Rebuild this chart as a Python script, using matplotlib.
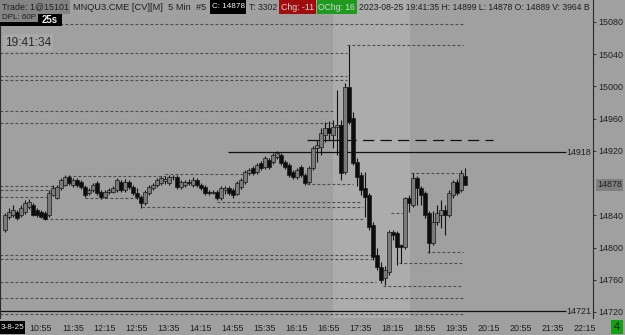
import matplotlib
matplotlib.use("Agg")
import matplotlib.pyplot as plt
from matplotlib.patches import Rectangle

W, H = 625, 335
plt.rcParams['font.family'] = ['Liberation Sans', 'DejaVu Sans']

# 5 min bars, 10:10 .. 19:40
opens = [14822, 14838, 14840, 14844, 14840, 14844, 14850, 14853, 14847, 14844,
         14843, 14840, 14865, 14862, 14874, 14878, 14888, 14878, 14884, 14881,
         14875, 14868, 14871, 14880, 14869, 14863, 14869, 14869, 14871, 14881,
         14871, 14881, 14875, 14868, 14863, 14855, 14868, 14874, 14878, 14880,
         14882, 14880, 14887, 14888, 14875, 14878, 14881, 14878, 14884, 14878,
         14875, 14869, 14868, 14869, 14862, 14871, 14874, 14871, 14867, 14875,
         14881, 14893, 14899, 14894, 14905, 14900, 14909, 14906, 14912, 14915,
         14906, 14902, 14894, 14888, 14900, 14890, 14881, 14899, 14924, 14925,
         14940, 14948, 14940, 14950, 14952, 14894, 14999, 14961, 14906, 14890,
         14874, 14865, 14828, 14791, 14776, 14762, 14770, 14819, 14818, 14803,
         14801, 14861, 14853, 14886, 14874, 14868, 14843, 14806, 14832, 14840,
         14847, 14840, 14865, 14881, 14871, 14889]
highs = [14843, 14849, 14853, 14847, 14853, 14859, 14860, 14855, 14849, 14847,
         14845, 14871, 14878, 14878, 14886, 14890, 14890, 14886, 14886, 14884,
         14878, 14874, 14880, 14883, 14871, 14871, 14874, 14876, 14886, 14884,
         14885, 14884, 14878, 14874, 14865, 14871, 14878, 14880, 14886, 14889,
         14889, 14890, 14890, 14890, 14884, 14884, 14885, 14888, 14886, 14880,
         14878, 14871, 14871, 14871, 14876, 14876, 14876, 14874, 14883, 14886,
         14896, 14899, 14901, 14905, 14907, 14914, 14911, 14917, 14920, 14917,
         14909, 14905, 14896, 14899, 14902, 14893, 14901, 14926, 14934, 14948,
         14956, 14957, 14958, 14996, 14958, 15004, 15051, 14968, 14911, 14894,
         14894, 14868, 14832, 14799, 14782, 14777, 14822, 14822, 14821, 14804,
         14863, 14865, 14893, 14889, 14876, 14870, 14845, 14845, 14853, 14859,
         14853, 14871, 14884, 14885, 14896, 14899]
lows = [14819, 14835, 14838, 14834, 14838, 14842, 14848, 14839, 14838, 14837,
        14834, 14838, 14864, 14860, 14871, 14876, 14878, 14875, 14875, 14873,
        14863, 14865, 14869, 14865, 14860, 14862, 14866, 14868, 14869, 14869,
        14869, 14873, 14865, 14860, 14849, 14853, 14865, 14871, 14875, 14878,
        14879, 14878, 14884, 14873, 14873, 14875, 14878, 14875, 14875, 14871,
        14865, 14865, 14866, 14859, 14859, 14866, 14865, 14862, 14865, 14873,
        14879, 14890, 14890, 14891, 14896, 14898, 14898, 14904, 14910, 14902,
        14898, 14888, 14885, 14885, 14888, 14878, 14879, 14896, 14906, 14915,
        14931, 14934, 14924, 14915, 14884, 14891, 14953, 14902, 14876, 14865,
        14838, 14822, 14785, 14772, 14756, 14753, 14766, 14809, 14778, 14781,
        14798, 14844, 14850, 14853, 14853, 14837, 14793, 14803, 14828, 14824,
        14816, 14838, 14862, 14865, 14869, 14878]
closes = [14840, 14844, 14847, 14837, 14849, 14855, 14857, 14840, 14840, 14838,
          14836, 14868, 14874, 14875, 14884, 14888, 14880, 14884, 14878, 14875,
          14865, 14871, 14878, 14868, 14863, 14869, 14871, 14874, 14884, 14871,
          14881, 14875, 14868, 14863, 14855, 14869, 14875, 14877, 14884, 14886,
          14885, 14888, 14888, 14875, 14881, 14881, 14880, 14884, 14878, 14874,
          14868, 14868, 14869, 14861, 14874, 14874, 14868, 14865, 14880, 14884,
          14894, 14896, 14893, 14903, 14899, 14911, 14900, 14915, 14917, 14905,
          14900, 14890, 14888, 14896, 14890, 14880, 14899, 14924, 14927, 14942,
          14948, 14942, 14950, 14952, 14893, 14999, 14956, 14905, 14888, 14871,
          14863, 14825, 14788, 14776, 14760, 14772, 14819, 14816, 14801, 14801,
          14861, 14855, 14886, 14874, 14865, 14840, 14806, 14832, 14843, 14847,
          14840, 14868, 14881, 14868, 14893, 14878]

# dotted price levels: (price, first bar, last bar)
level_price = [15077.5, 15051, 15041.5, 15013, 15008, 14969.5, 14954.5, 14891.5,
               14889, 14892.5, 14878.5, 14876.5, 14871.5, 14863, 14861.5, 14856.5,
               14850.5, 14843, 14835.5, 14794.5, 14791, 14786, 14781, 14757,
               14752.5, 14737.5, 14717.5]
level_from = [-1.25, 85.5, -1.25, -1.25, -1.25, -1.25, -1.25, 40, 15.75, 101.5,
              75.5, -1.25, -1.25, -1.25, 20, 53, 34.25, 96.5, 10, 105.5, -1.25,
              -1.25, 98.5, -1.25, 94.5, -1.25, -1.25]
level_to = [114.5, 114.5, 85.5, 85.5, 85.5, 82, 82, 59.5, 40, 113, 87, 12, 12.5,
            10.5, 33.25, 89.25, 89.5, 99.25, 90, 114.5, 91.75, 91.75, 114.5,
            92.75, 114.5, 114.5, 114.5]

y_ticks = [14720, 14760, 14800, 14840, 14920, 14960, 15000, 15040, 15080]
time_labels = ['10:55', '11:35', '12:15', '12:55', '13:35', '14:15', '14:55',
               '15:35', '16:15', '16:55', '17:35', '18:15', '18:55', '19:35',
               '20:15', '20:55', '21:35', '22:15']
last_price = 14878
line_a, line_b, line_c = 14918, 14721, 14933.5

BG = '#a0a0a0'
TXT = '#1e1e1e'
LS = 6.4
fig = plt.figure(figsize=(W / 100, H / 100), dpi=100, facecolor=BG)
ax = fig.add_axes([0, 17 / H, 593 / W, 318 / H], facecolor=BG)
ax.set_xlim(-1.25, 147.0)
ax.set_ylim(14712.5, 15107.3)
renderer = fig.canvas.get_renderer()

# session shading
ax.axvspan(82, 101.25, color='#acacac', lw=0, zorder=0)

for p, a, b in zip(level_price, level_from, level_to):
    ax.hlines(p, a, b, colors='#4a4a4a', lw=0.8, linestyles=(0, (2.5, 2)), zorder=1)

ax.hlines(line_a, 55.75, 140.25, colors='#111111', lw=0.9, zorder=2)
ax.hlines(line_b, -1.25, 140.25, colors='#111111', lw=0.9, zorder=2)
ax.hlines(line_c, 75.5, 83.75, colors='#111111', lw=0.9, zorder=2)
ax.hlines(line_c, 85, 122, colors='#111111', lw=0.9, linestyles=(0, (9, 5)), zorder=2)

# candles
idx = list(range(len(opens)))
ax.vlines(idx, lows, highs, colors='#111111', lw=0.8, zorder=3)
for i, o, c in zip(idx, opens, closes):
    up = c >= o
    bottom = min(o, c)
    height = max(abs(c - o), 0.8)
    ax.bar(i, height, bottom=bottom, width=0.8,
           color='#7a7a7a' if up else '#0d0d0d',
           edgecolor='#1a1a1a', lw=0.5, zorder=4)

# right price scale
ax.yaxis.tick_right()
ax.set_yticks(y_ticks)
ax.tick_params(axis='y', length=2.5, width=0.6, pad=1.2, labelsize=LS, colors=TXT)
ax.set_xticks([])
for s in ['top', 'bottom']:
    ax.spines[s].set_visible(False)
ax.spines['right'].set_color('#2a2a2a')
ax.spines['left'].set_color('#2a2a2a')
ax.spines['left'].set_linewidth(1.5)

ax.text(1.0065, last_price, str(last_price), transform=ax.get_yaxis_transform(),
        fontsize=LS, color=TXT, va='center', ha='left',
        bbox=dict(boxstyle='square,pad=0.15', fc='#808080', ec='none'))
for p in [line_a, line_b]:
    ax.text(140.4, p, str(p), fontsize=LS, color=TXT, va='center', ha='left')

for k, t in enumerate(time_labels):
    ax.text(9 + 8 * k, -0.032, t, transform=ax.get_xaxis_transform(),
            fontsize=LS, color=TXT, ha='center', va='center', clip_on=False)


def fbox(x0, y0, x1, y1, color):
    fig.add_artist(Rectangle((x0 / W, 1 - y1 / H), (x1 - x0) / W, (y1 - y0) / H,
                             transform=fig.transFigure, fc=color, ec='none', zorder=10))


def ftext(x0, x1, y, s, color=TXT, **kw):
    # squeeze the string into the pixel span x0..x1 of the screenshot
    t = fig.text(x0 / W, 1 - y / H, s, color=color, fontsize=7, va='center',
                 ha='left', zorder=11, **kw)
    w = t.get_window_extent(renderer).width
    t.set_fontsize(7 * (x1 - x0) / w)
    return t


# date box bottom-left, bar count box bottom-right
fbox(0, 321, 25, 334, '#000000')
ftext(0.5, 24, 327.5, '3-8-25', color='#f0f0f0')
fbox(611, 320, 623, 334, '#14a014')
ftext(614, 620, 327.5, '4')

# header line
fbox(0, 0, 70, 14, '#848484')
ftext(2, 68, 7, 'Trade: 1@15101')
ftext(73, 207, 7, 'MNQU3.CME [CV][M]  5 Min  #5')
fbox(210, 0, 246, 14, '#000000')
ftext(212, 245, 7, 'C: 14878', color='#f0f0f0')
ftext(249, 277, 7, 'T: 3302')
fbox(279, 0, 316, 14, '#a00c0c')
ftext(281, 314, 7, 'Chg: -11', color='#d8d8d8')
fbox(317, 0, 357, 14, '#1e9a1e')
ftext(318, 355, 7, 'OChg: 16', color='#d8d8d8')
ftext(359, 591, 7, '2023-08-25 19:41:35 H: 14899 L: 14878 O: 14889 V: 3964 B')

fbox(0, 14, 62, 26, '#000000')
ftext(42, 58, 20, '25s', color='#f0f0f0', weight='bold')
fbox(0, 13, 38, 22, '#848484')
ftext(2, 36, 17.5, 'DPL: 60P')

fbox(3, 34, 53, 51, '#a8a8a8')
ftext(5, 51, 42.5, '19:41:34', color='#2a2a2a')

fig.savefig('out.png', dpi=100, facecolor=BG)
